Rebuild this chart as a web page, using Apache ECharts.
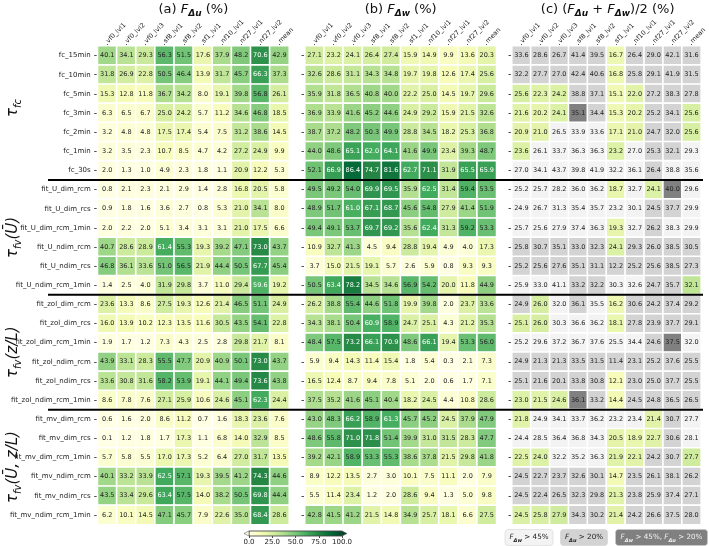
<!DOCTYPE html>
<html><head><meta charset="utf-8">
<script src="https://cdn.jsdelivr.net/npm/echarts@6/dist/echarts.min.js"></script>
<style>html,body{margin:0;padding:0;background:#fff}#c{width:709px;height:546px}</style>
</head><body><div id="c"></div>
<script>
const columns = ['vf0_lvl1','vf0_lvl2','vf0_lvl3','sf8_lvl1','sf8_lvl2','sf1_lvl1','nf10_lvl1','nf27_lvl1','nf27_lvl2','mean'];
const rows = ['fc_15min','fc_10min','fc_5min','fc_3min','fc_2min','fc_1min','fc_30s',
 'fit_U_dim_rcm','fit_U_dim_rcs','fit_U_dim_rcm_1min','fit_U_ndim_rcm','fit_U_ndim_rcs','fit_U_ndim_rcm_1min',
 'fit_zol_dim_rcm','fit_zol_dim_rcs','fit_zol_dim_rcm_1min','fit_zol_ndim_rcm','fit_zol_ndim_rcs','fit_zol_ndim_rcm_1min',
 'fit_mv_dim_rcm','fit_mv_dim_rcs','fit_mv_dim_rcm_1min','fit_mv_ndim_rcm','fit_mv_ndim_rcs','fit_mv_ndim_rcm_1min'];
const groupSizes = [7,6,6,6];
const groupLabels = [
 '{t|τ}{s|fc}',
 '{t|τ}{s|fv}{n|(Ū)}',
 '{t|τ}{s|fv}{n|(z/L)}',
 '{t|τ}{s|fv}{n|(Ū, z/L)}'
];
const fDu = [
[40.1,34.1,29.3,56.3,51.5,17.6,37.9,48.2,70.6,42.9],
[31.8,26.9,22.8,50.5,46.4,13.9,31.7,45.7,66.3,37.3],
[15.3,12.8,11.8,36.7,34.2,8.0,19.1,39.8,56.8,26.1],
[6.3,6.5,6.7,25.0,24.2,5.7,11.2,34.6,46.8,18.5],
[3.2,4.8,4.8,17.5,17.4,5.4,7.5,31.2,38.6,14.5],
[3.2,3.5,2.3,10.7,8.5,4.7,4.2,27.2,24.9,9.9],
[2.0,1.3,1.0,4.9,2.3,1.8,1.1,20.9,12.2,5.3],
[0.8,2.1,2.3,2.1,2.9,1.4,2.8,16.8,20.5,5.8],
[0.9,1.8,1.6,3.6,2.7,0.8,5.3,21.0,34.1,8.0],
[2.0,2.2,2.0,5.1,3.4,3.1,3.1,21.0,17.5,6.6],
[40.7,28.6,28.9,61.4,55.3,19.3,39.2,47.1,73.0,43.7],
[46.8,36.1,33.6,51.0,56.5,21.9,44.4,50.5,67.7,45.4],
[1.4,2.5,4.0,31.9,29.8,3.7,11.0,29.4,59.6,19.2],
[23.6,13.3,8.6,27.5,19.3,12.6,21.4,46.5,51.1,24.9],
[16.0,13.9,10.2,12.3,13.5,11.6,30.5,43.5,54.1,22.8],
[1.9,1.7,1.2,7.3,4.3,2.5,2.8,29.8,21.7,8.1],
[43.9,33.1,28.3,55.5,47.7,20.9,40.9,50.1,73.0,43.7],
[33.6,30.8,31.6,58.2,53.9,19.1,44.1,49.4,73.6,43.8],
[8.6,7.8,7.6,27.1,25.9,10.6,24.6,45.1,62.3,24.4],
[0.6,1.6,2.0,8.6,11.2,0.7,1.6,18.3,23.6,7.6],
[0.1,1.2,1.8,1.7,17.3,1.1,6.8,14.0,32.9,8.5],
[5.7,5.8,5.5,17.0,17.3,5.2,6.4,27.0,31.7,13.5],
[40.1,33.2,33.9,62.5,57.1,19.3,39.5,41.2,74.3,44.6],
[43.5,33.4,29.6,63.4,57.5,14.0,38.2,50.5,69.8,44.4],
[6.2,10.1,14.5,47.1,45.7,7.9,22.6,35.0,68.4,28.6]
];
const fDw = [
[27.1,23.2,24.1,26.4,27.4,15.9,14.9,9.9,13.6,20.3],
[32.6,28.6,31.1,34.3,34.8,19.7,19.8,12.6,17.4,25.6],
[35.9,31.8,36.5,40.8,40.0,22.2,25.0,14.5,19.7,29.6],
[36.9,33.9,41.6,45.2,44.6,24.9,29.2,15.9,21.5,32.6],
[38.7,37.2,48.2,50.3,49.9,28.8,34.5,18.2,25.3,36.8],
[44.0,48.6,65.1,62.0,64.1,41.6,49.9,23.4,39.3,48.7],
[52.1,66.9,86.4,74.7,81.6,62.7,71.1,31.9,65.5,65.9],
[49.5,49.2,54.0,69.9,69.5,35.9,62.5,31.4,59.4,53.5],
[48.9,51.7,61.0,67.1,68.7,45.6,54.8,27.9,41.4,51.9],
[49.4,49.1,53.7,69.7,69.2,35.6,62.4,31.3,59.2,53.3],
[10.9,32.7,41.3,4.5,9.4,28.8,19.4,4.9,4.0,17.3],
[3.7,15.0,21.5,19.1,5.7,2.6,5.9,0.8,9.3,9.3],
[50.5,63.4,78.2,34.5,34.6,56.9,54.2,20.0,11.8,44.9],
[26.2,38.8,55.4,44.6,51.8,19.9,39.8,2.0,23.7,33.6],
[34.3,38.1,50.4,60.9,58.9,24.7,25.1,4.3,21.2,35.3],
[48.4,57.5,73.2,66.1,70.9,48.6,66.1,19.4,53.3,56.0],
[5.9,9.4,14.3,11.4,15.4,1.8,5.4,0.3,2.1,7.3],
[16.5,12.4,8.7,9.4,7.8,5.1,2.0,0.6,1.7,7.1],
[37.5,35.2,41.6,45.1,40.4,18.2,24.5,4.4,10.8,28.6],
[43.0,48.3,66.2,58.9,61.3,45.7,45.2,24.5,37.9,47.9],
[48.6,55.8,71.0,71.8,51.4,39.9,31.0,31.5,28.3,47.7],
[39.2,42.1,58.9,53.3,55.3,38.6,37.8,21.5,29.8,41.8],
[8.9,12.2,13.5,2.7,3.0,10.1,7.5,11.1,2.0,7.9],
[5.5,11.4,23.4,1.2,2.0,28.6,9.4,1.3,5.0,9.8],
[42.8,41.5,41.2,21.5,14.8,34.9,25.7,18.1,6.6,27.5]
];
const fAvg = [
[33.6,28.6,26.7,41.4,39.5,16.7,26.4,29.0,42.1,31.6],
[32.2,27.7,27.0,42.4,40.6,16.8,25.8,29.1,41.9,31.5],
[25.6,22.3,24.2,38.8,37.1,15.1,22.0,27.2,38.3,27.8],
[21.6,20.2,24.1,35.1,34.4,15.3,20.2,25.2,34.1,25.6],
[20.9,21.0,26.5,33.9,33.6,17.1,21.0,24.7,32.0,25.6],
[23.6,26.1,33.7,36.3,36.3,23.2,27.0,25.3,32.1,29.3],
[27.0,34.1,43.7,39.8,41.9,32.2,36.1,26.4,38.8,35.6],
[25.2,25.7,28.2,36.0,36.2,18.7,32.7,24.1,40.0,29.6],
[24.9,26.7,31.3,35.4,35.7,23.2,30.1,24.5,37.7,29.9],
[25.7,25.6,27.9,37.4,36.3,19.3,32.7,26.2,38.3,29.9],
[25.8,30.7,35.1,33.0,32.3,24.1,29.3,26.0,38.5,30.5],
[25.2,25.6,27.6,35.1,31.1,12.2,25.2,25.6,38.5,27.3],
[25.9,33.0,41.1,33.2,32.2,30.3,32.6,24.7,35.7,32.1],
[24.9,26.0,32.0,36.1,35.5,16.2,30.6,24.2,37.4,29.2],
[25.1,26.0,30.3,36.6,36.2,18.1,27.8,23.9,37.7,29.1],
[25.2,29.6,37.2,36.7,37.6,25.5,34.4,24.6,37.5,32.0],
[24.9,21.3,21.3,33.5,31.5,11.4,23.1,25.2,37.6,25.5],
[25.1,21.6,20.1,33.8,30.8,12.1,23.0,25.0,37.7,25.5],
[23.0,21.5,24.6,36.1,33.2,14.4,24.5,24.8,36.5,26.5],
[21.8,24.9,34.1,33.7,36.2,23.2,23.4,21.4,30.7,27.7],
[24.4,28.5,36.4,36.8,34.3,20.5,18.9,22.7,30.6,28.1],
[22.5,24.0,32.2,35.2,36.3,21.9,22.1,24.2,30.7,27.7],
[24.5,22.7,23.7,32.6,30.1,14.7,23.5,26.1,38.1,26.2],
[24.5,22.4,26.5,32.3,29.8,21.3,23.8,25.9,37.4,27.1],
[24.5,25.8,27.9,34.3,30.2,21.4,24.2,26.6,37.5,28.0]
];
const colorbarTicks = [0,25,50,75,100];
const duThreshold = 20, dwThreshold = 45;

const FONT = 'DejaVu Sans';
const YLGN = ['#ffffe5','#f7fcb9','#d9f0a3','#addd8e','#78c679','#41ab5d','#238443','#006837','#004529'];
const GRAY_LIGHT = '#f3f3f3', GRAY_MID = '#d3d3d3', GRAY_DARK = '#808080';
function hex2rgb(h){return [1,3,5].map(i=>parseInt(h.substr(i,2),16));}
const YRGB = YLGN.map(hex2rgb);
function ylgn(v){
  let t = Math.max(0, Math.min(1, v/100)) * (YRGB.length-1);
  let i = Math.min(YRGB.length-2, Math.floor(t)), f = t-i;
  const c = YRGB[i].map((a,k)=>Math.round(a+(YRGB[i+1][k]-a)*f));
  return 'rgb('+c.join(',')+')';
}
const TXT = '#222';

const GT = 46, GH = 478.5, GW = 191.3;
const lefts = [97.7, 305, 512];

function panelData(vals, colorFn, labelFn){
  const d = [];
  vals.forEach((r,i)=>r.forEach((v,j)=>{
    d.push({value:[j,i,v], itemStyle:{color:colorFn(i,j,v)}, label:{color:labelFn(v)}});
  }));
  return d;
}
const seqColor = (i,j,v)=>ylgn(v);
const seqLabel = v=> v>=59.5 ? '#ffffff' : TXT;
function avgColor(i,j,v){
  const du = fDu[i][j] > duThreshold, dw = fDw[i][j] > dwThreshold;
  if (du && dw) return GRAY_DARK;
  if (dw) return GRAY_LIGHT;
  if (du) return GRAY_MID;
  return ylgn(v);
}

const grids = lefts.map(l=>({left:l, top:GT, width:GW, height:GH}));
grids.push({left:249, top:531, width:93, height:5});

const xAxes = lefts.map((l,k)=>({
  gridIndex:k, type:'category', data:columns, position:'top',
  axisLine:{show:false},
  axisTick:{show:true, length:2, alignWithLabel:true, lineStyle:{color:TXT, width:0.8}},
  axisLabel:{rotate:-45, fontSize:6.5, fontFamily:FONT, color:TXT, margin:4, interval:0},
  splitLine:{show:false}
}));
xAxes.push({gridIndex:3, type:'value', min:0, max:100, interval:25, position:'bottom',
  axisLine:{show:false}, splitLine:{show:false},
  axisTick:{show:true, length:2, lineStyle:{color:TXT, width:0.8}},
  axisLabel:{fontSize:7, fontFamily:FONT, color:TXT, margin:3, formatter:v=>colorbarTicks.includes(v)?v.toFixed(1):''}});
const yAxes = lefts.map((l,k)=>({
  gridIndex:k, type:'category', data:rows, inverse:true,
  axisLine:{show:false},
  axisTick:{show:true, length:3.5, alignWithLabel:true, lineStyle:{color:TXT, width:0.8}},
  axisLabel:{show:k===0, fontSize:7, fontFamily:FONT, color:TXT, margin:7, interval:0},
  splitLine:{show:false}
}));
yAxes.push({gridIndex:3, type:'value', min:0, max:1, show:false});

function hm(k, data){
  return {type:'heatmap', xAxisIndex:k, yAxisIndex:k, data:data,
    itemStyle:{borderColor:'#fff', borderWidth:1.6},
    label:{show:true, fontSize:6.5, fontFamily:FONT, formatter:p=>p.value[2].toFixed(1)},
    emphasis:{disabled:true}};
}

const cbar = {
  type:'custom', xAxisIndex:3, yAxisIndex:3, data:[[0,0]], silent:true,
  renderItem:(params, api)=>{
    const p0 = api.coord([0,0]), p1 = api.coord([100,1]);
    const x0=p0[0], x1=p1[0], yb=p0[1], yt=p1[1], h=yb-yt, tri=5;
    const stops = YLGN.map((c,i)=>({offset:i/(YLGN.length-1), color:c}));
    return {type:'group', children:[
      {type:'rect', shape:{x:x0, y:yt, width:x1-x0, height:h},
       style:{fill:new echarts.graphic.LinearGradient(0,0,1,0,stops), stroke:'#444', lineWidth:0.5}},
      {type:'polygon', shape:{points:[[x0,yt],[x0-tri,yt+h/2],[x0,yb]]}, style:{fill:YLGN[0], stroke:'#444', lineWidth:0.5}},
      {type:'polygon', shape:{points:[[x1,yt],[x1+tri,yt+h/2],[x1,yb]]}, style:{fill:YLGN[YLGN.length-1], stroke:'#444', lineWidth:0.5}}
    ]};
  }
};

const chart = echarts.init(document.getElementById('c'), null, {renderer:'canvas'});
chart.setOption({
  backgroundColor:'#fff', animation:false,
  grid:grids, xAxis:xAxes, yAxis:yAxes,
  series:[
    hm(0, panelData(fDu, seqColor, seqLabel)),
    hm(1, panelData(fDw, seqColor, seqLabel)),
    hm(2, panelData(fAvg, avgColor, v=>TXT)),
    cbar
  ]
});

// decorations computed from axes
const yc = name => chart.convertToPixel({yAxisIndex:0}, name);
const pitch = yc(rows[1]) - yc(rows[0]);
const graphics = [];
let start = 0;
const subRich = {
  t:{fontSize:15, fontStyle:'italic', fontFamily:FONT, lineHeight:20, verticalAlign:'middle', fill:'#111'},
  s:{fontSize:10, fontStyle:'italic', fontFamily:FONT, lineHeight:10, verticalAlign:'bottom', fill:'#111'},
  n:{fontSize:15, fontStyle:'italic', fontFamily:FONT, lineHeight:20, verticalAlign:'middle', fill:'#111'}
};
groupSizes.forEach((n,g)=>{
  const top = yc(rows[start]) - pitch/2;
  const bot = yc(rows[start+n-1]) + pitch/2;
  graphics.push({type:'text', x:13, y:(top+bot)/2 - (g===0?5:0), rotation:Math.PI/2,
    style:{text:groupLabels[g], rich:subRich, align:'center', verticalAlign:'middle'}});
  if (g < groupSizes.length-1) {
    graphics.push({type:'line', shape:{x1:48, y1:bot, x2:703, y2:bot}, style:{stroke:'#000', lineWidth:2}, z:100});
  }
  start += n;
});
const titleRich = {
  a:{fontSize:13, fontFamily:FONT, lineHeight:16, verticalAlign:'middle', fill:'#111'},
  i:{fontSize:13, fontFamily:FONT, fontStyle:'italic', lineHeight:16, verticalAlign:'middle', fill:'#111'},
  s:{fontSize:9, fontFamily:FONT, fontStyle:'italic', fontWeight:'bold', lineHeight:8, verticalAlign:'bottom', fill:'#111'}
};
const titles = ['{a|(a) }{i|F}{s|Δu}{a| (%)}', '{a|(b) }{i|F}{s|Δw}{a| (%)}', '{a|(c) (}{i|F}{s|Δu}{a| + }{i|F}{s|Δw}{a|)/2 (%)}'];
titles.forEach((t,k)=>{
  graphics.push({type:'text', x:lefts[k]+GW/2, y:10, style:{text:t, rich:titleRich, align:'center', verticalAlign:'middle'}});
});
// legend boxes
const legRich = (fill)=>({
  a:{fontSize:7.2, fontFamily:FONT, lineHeight:12, verticalAlign:'middle', fill:fill},
  i:{fontSize:7.2, fontFamily:FONT, fontStyle:'italic', lineHeight:12, verticalAlign:'middle', fill:fill},
  s:{fontSize:5, fontFamily:FONT, fontStyle:'italic', fontWeight:'bold', lineHeight:6, verticalAlign:'bottom', fill:fill}
});
const legends = [
  {x:505, w:48, c:GRAY_LIGHT, t:'{i|F}{s|Δw}{a| > 45%}', f:'#222'},
  {x:560.5, w:47, c:GRAY_MID, t:'{i|F}{s|Δu}{a| > 20%}', f:'#222'},
  {x:615.5, w:92, c:GRAY_DARK, t:'{i|F}{s|Δw}{a| > 45%, }{i|F}{s|Δu}{a| > 20%}', f:'#f0f0f0'}
];
legends.forEach(L=>{
  graphics.push({type:'rect', shape:{x:L.x, y:529.5, width:L.w, height:16, r:3}, style:{fill:L.c, stroke:'#ccc', lineWidth:0.5}});
  graphics.push({type:'text', x:L.x+L.w/2, y:537.5, style:{text:L.t, rich:legRich(L.f), align:'center', verticalAlign:'middle'}});
});
chart.setOption({graphic:graphics});
</script></body></html>
